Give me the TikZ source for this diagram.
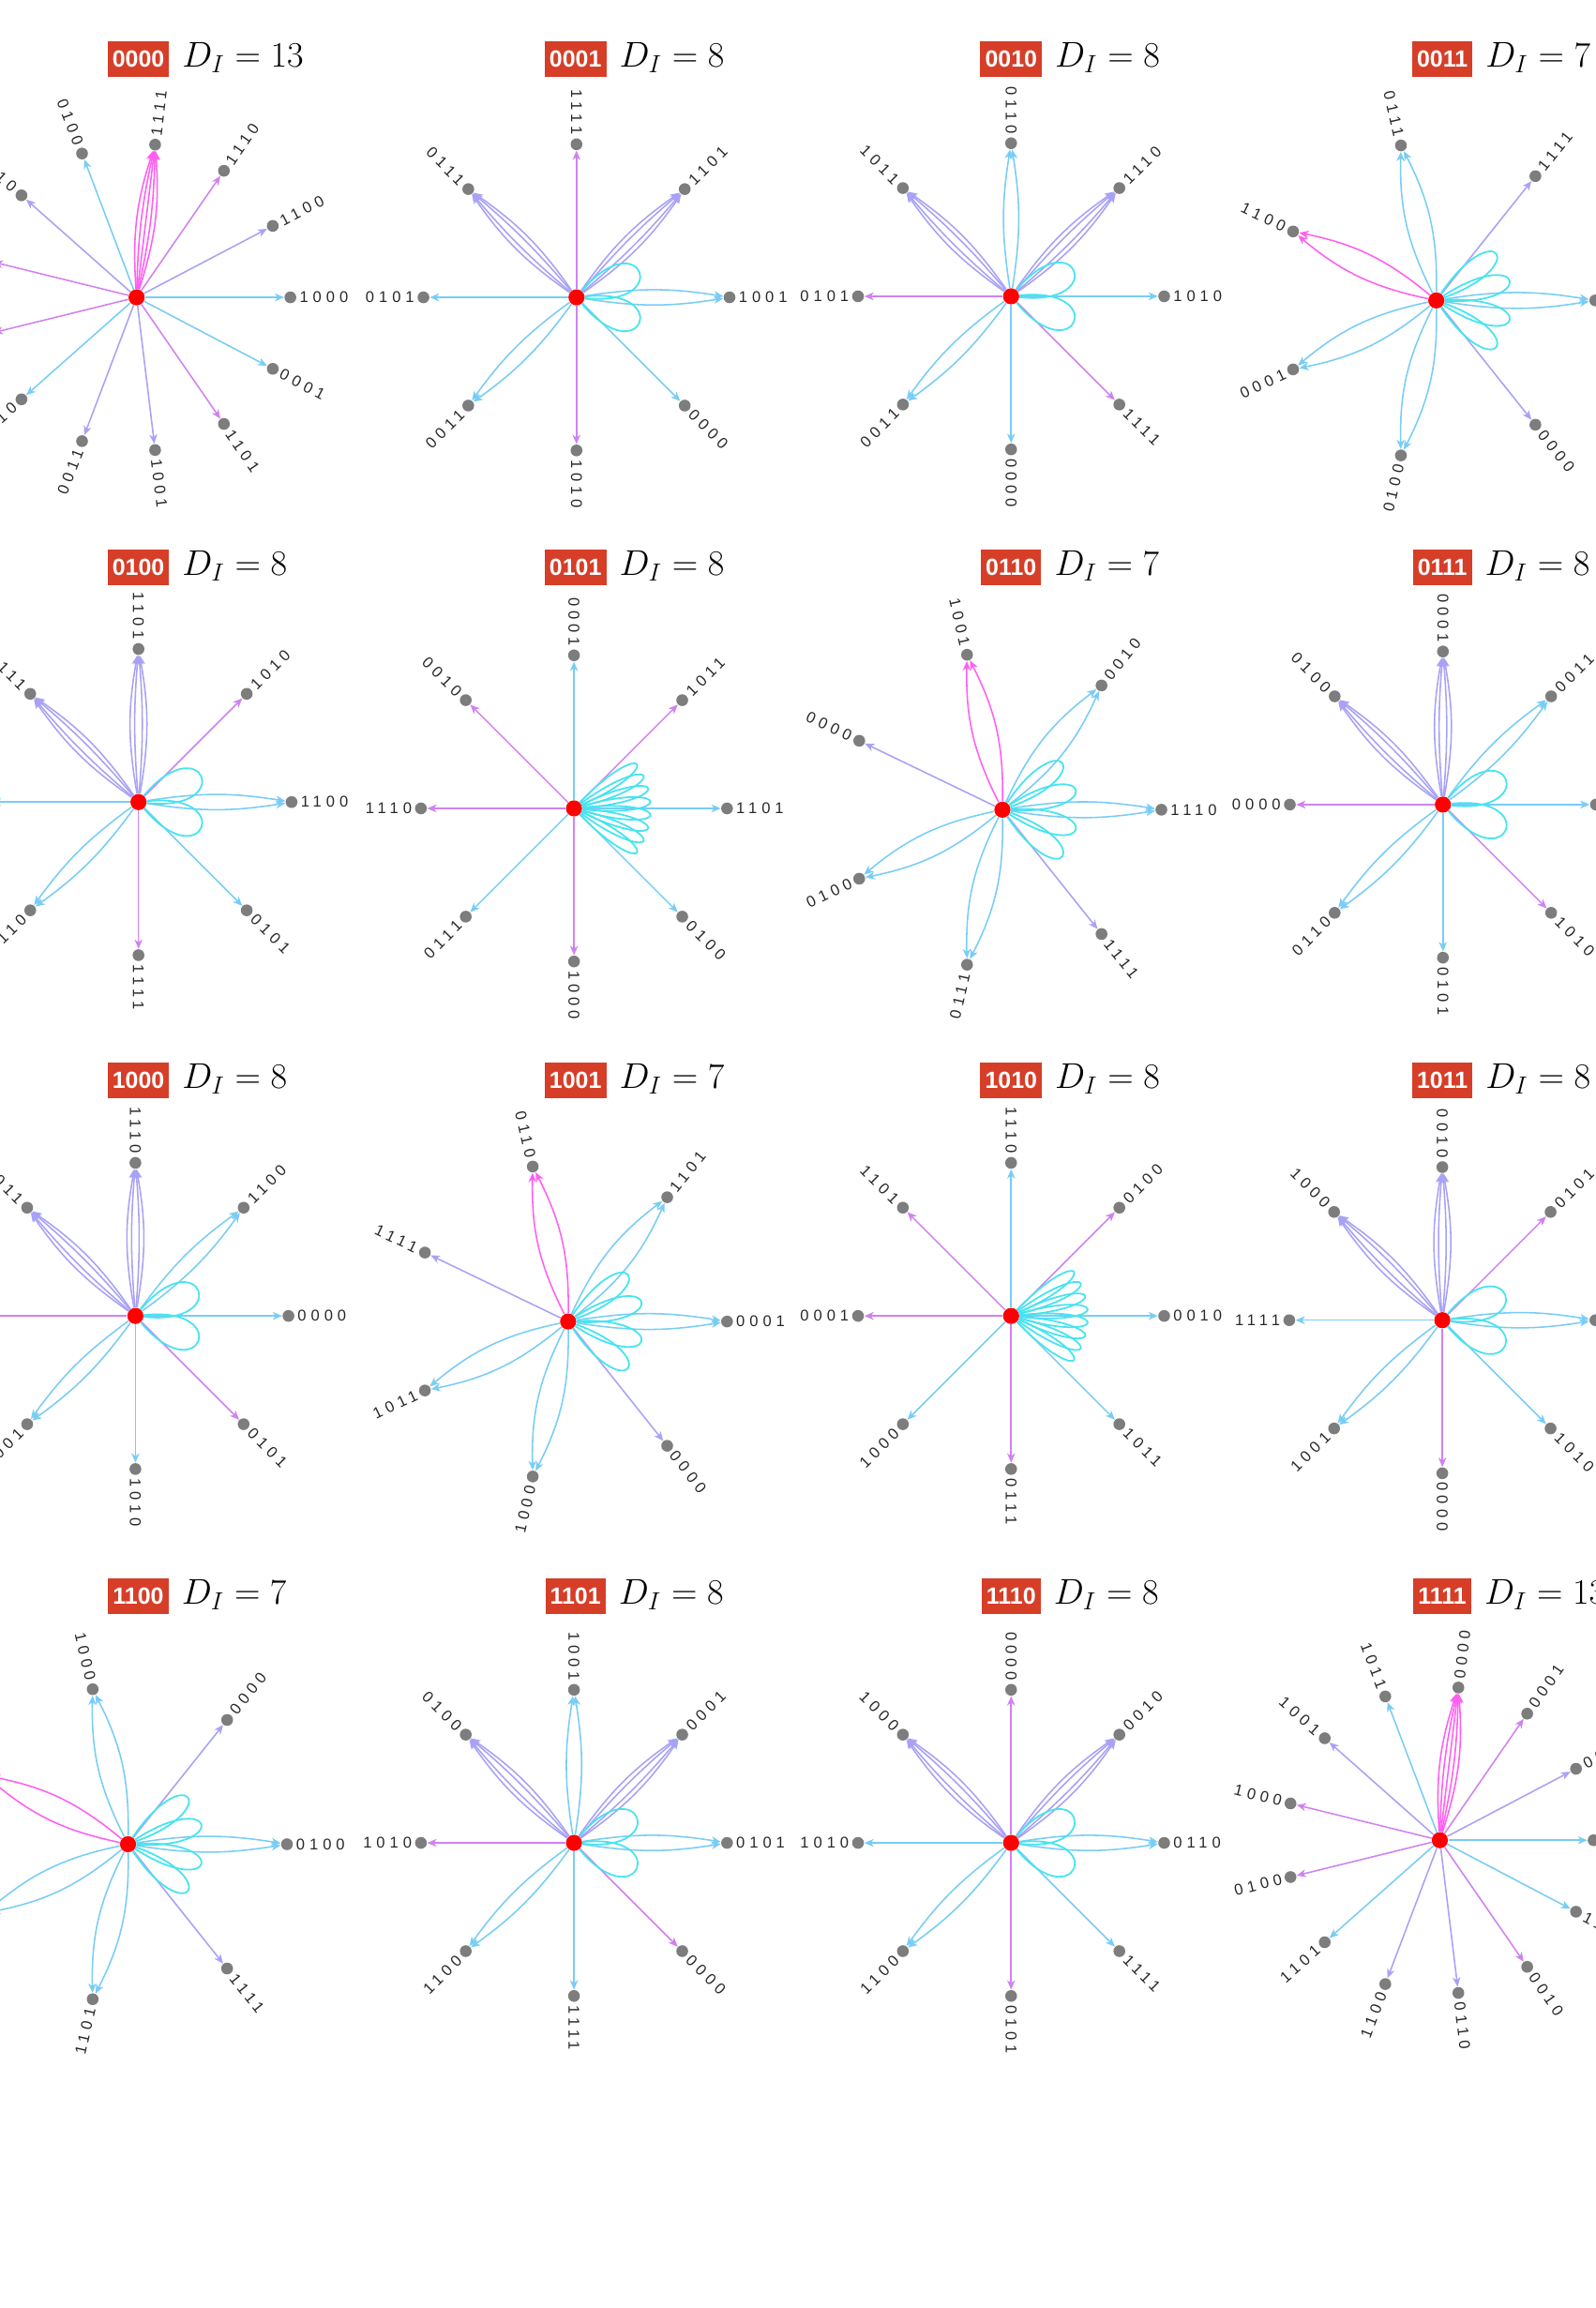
\documentclass[tikz,border=0pt]{standalone}
\usepackage{fontspec}
\usetikzlibrary{arrows.meta,calc}
\newfontfamily\labfont[LetterSpace=30]{Liberation Sans}
\newfontfamily\boxfont{Liberation Sans}
\pgfdeclarelayer{bg}
\pgfdeclarelayer{edges}
\pgfsetlayers{bg,edges,main}
\definecolor{ecy}{RGB}{120,205,245}
\definecolor{ela}{RGB}{168,162,245}
\definecolor{evi}{RGB}{208,130,240}
\definecolor{epk}{RGB}{255,95,240}
\definecolor{elp}{RGB}{70,228,240}
\definecolor{boxred}{RGB}{214,62,40}
\definecolor{leafgray}{RGB}{125,125,125}
\definecolor{labtext}{RGB}{40,40,40}
\tikzset{
 ctr/.style={circle, fill=red, inner sep=0pt, minimum size=7.8pt},
 leaf/.style={circle, fill=leafgray, inner sep=0pt, minimum size=5.7pt},
 cnx/.style={line width=0.7pt, -{Stealth[length=4.5pt,width=3.8pt,inset=1.3pt]}},
 lp/.style={line width=0.8pt, draw=elp},
 lab/.style={inner sep=0pt, font=\labfont\fontsize{7.5}{9}\selectfont, text=labtext},
 tbox/.style={fill=boxred, text=white, font=\boxfont\bfseries\fontsize{11.3}{13}\selectfont, inner xsep=2.3pt, inner ysep=0pt, minimum height=17pt},
 dlab/.style={font=\fontsize{16.5}{19}\selectfont, inner sep=0pt, anchor=base west}
}
\newcommand\EOne[3]{\draw[cnx,color=#3] (#1) -- (#2);}
\newcommand\ETwo[3]{\foreach \bb in {9,-9}{\draw[cnx,color=#3] (#1) to[bend left=\bb] (#2);}}
\newcommand\ETwoW[3]{\foreach \bb in {14,-14}{\draw[cnx,color=#3] (#1) to[bend left=\bb] (#2);}}
\newcommand\EFour[3]{\foreach \bb in {10,4.5,-4.5,-10}{\draw[cnx,color=#3] (#1) to[bend left=\bb] (#2);}}
\newcommand\EFive[3]{\foreach \bb in {11,5.5,0,-5.5,-11}{\draw[cnx,color=#3] (#1) to[bend left=\bb] (#2);}}
\newcommand\PanelHead[7]{%
 \node[tbox] (#1box) at (#4,-#5) {#2};
 \node[dlab] (#1di) at ([xshift=6pt]#1box.base east) {$D_I = #3$};
 \node[ctr] (#1c) at (#6,-#7) {};}
\newcommand\PanelNodes[3]{%
 \foreach \aa/\lab/\col/\typ in {#3}{%
  \pgfmathsetmacro\ang{\aa}%
  \node[leaf] (#1n\lab) at ($(#1c)+(\ang:#2)$) {};
  \def\isleft{0}%
  \ifdim\ang pt>89.9pt\relax\ifdim\ang pt<269.9pt\relax\def\isleft{1}\fi\fi
  \ifnum\isleft=1\relax
   \pgfmathsetmacro\rot{\ang-180}%
   \node[lab,anchor=east,rotate=\rot] (#1t\lab) at ($(#1n\lab)+(\ang:6)$) {\lab};
  \else
   \node[lab,anchor=west,rotate=\ang] (#1t\lab) at ($(#1n\lab)+(\ang:6)$) {\lab};
  \fi
  \begin{pgfonlayer}{edges}
  \csname E\typ\endcsname{#1c}{#1n\lab}{\col}
  \end{pgfonlayer}
 }}
\newcommand\PanelLoops[4]{%
 \begin{pgfonlayer}{edges}
 \foreach \p in {#2}{\pgfmathsetmacro\po{\p+#3}\pgfmathsetmacro\pin{\p-#3}%
  \draw[lp] (#1c) to[out=\po,in=\pin,distance=#4] (#1c);}
 \end{pgfonlayer}}
\newcommand\LoopsTwo[1]{\PanelLoops{#1}{22,-22}{28}{44pt}}
\newcommand\LoopsFour[1]{\PanelLoops{#1}{38,15,-15,-38}{18}{46pt}}
\newcommand\LoopsFan[1]{\PanelLoops{#1}{35,25,15,5,-5,-15,-25,-35}{11}{45pt}}
\begin{document}
\begin{tikzpicture}[x=0.025cm,y=0.025cm]
\useasboundingbox (0,0) rectangle (1084,-1568);
\begin{pgfonlayer}{bg}\fill[white] (0,0) rectangle (1084,-1568);\end{pgfonlayer}
% ---------- row 1
\PanelHead{pa}{0000}{13}{94}{40}{92.8}{202}
\PanelNodes{pa}{104.5}{0/1000/ecy/One, 27.6923/1100/ela/One, 55.3846/1110/evi/One, 83.0769/1111/epk/Five, 110.769/0100/ecy/One, 138.4615/0110/ela/One, 166.1538/0111/evi/One, 193.8462/1011/evi/One, 221.5385/0010/ecy/One, 249.2308/0011/ela/One, 276.9231/1001/ela/One, 304.6154/1101/evi/One, 332.3077/0001/ecy/One}
\PanelHead{pb}{0001}{8}{391}{40}{391.7}{202}
\PanelNodes{pb}{104}{0/1001/ecy/Two, 45/1101/ela/Four, 90/1111/evi/One, 135/0111/ela/Four, 180/0101/ecy/One, 225/0011/ecy/Two, 270/1010/evi/One, 315/0000/ecy/One}
\LoopsTwo{pb}
\PanelHead{pc}{0010}{8}{687}{40}{687}{201.3}
\PanelNodes{pc}{104}{0/1010/ecy/One, 45/1110/ela/Four, 90/0110/ecy/Two, 135/1011/ela/Four, 180/0101/evi/One, 225/0011/ecy/Two, 270/0000/ecy/One, 315/1111/evi/One}
\LoopsTwo{pc}
\PanelHead{pd}{0011}{7}{980}{40}{975.9}{204.1}
\PanelNodes{pd}{108}{0/1011/ecy/Two, 51.4286/1111/ela/One, 102.857/0111/ecy/TwoW, 154.286/1100/epk/TwoW, 205.714/0001/ecy/TwoW, 257.143/0100/ecy/TwoW, 308.571/0000/ela/One}
\LoopsFour{pd}
% ---------- row 2
\PanelHead{pe}{0100}{8}{94}{385.6}{94.1}{544.9}
\PanelNodes{pe}{104}{0/1100/ecy/Two, 45/1010/evi/One, 90/1101/ela/Four, 135/0111/ela/Four, 180/0000/ecy/One, 225/0110/ecy/Two, 270/1111/evi/One, 315/0101/ecy/One}
\LoopsTwo{pe}
\PanelHead{pf}{0101}{8}{391}{385.6}{390}{549.2}
\PanelNodes{pf}{104}{0/1101/ecy/One, 45/1011/evi/One, 90/0001/ecy/One, 135/0010/evi/One, 180/1110/evi/One, 225/0111/ecy/One, 270/1000/evi/One, 315/0100/ecy/One}
\LoopsFan{pf}
\PanelHead{pg}{0110}{7}{687}{385.6}{681.1}{550.1}
\PanelNodes{pg}{108}{0/1110/ecy/Two, 51.4286/0010/ecy/TwoW, 102.857/1001/epk/TwoW, 154.286/0000/ela/One, 205.714/0100/ecy/TwoW, 257.143/0111/ecy/TwoW, 308.571/1111/ela/One}
\LoopsFour{pg}
\PanelHead{ph}{0111}{8}{980}{385.6}{980.4}{546.6}
\PanelNodes{ph}{104}{0/1111/ecy/One, 45/0011/ecy/Two, 90/0001/ela/Four, 135/0100/ela/Four, 180/0000/evi/One, 225/0110/ecy/Two, 270/0101/ecy/One, 315/1010/evi/One}
\LoopsTwo{ph}
% ---------- row 3
\PanelHead{pi}{1000}{8}{94}{734}{92}{894}
\PanelNodes{pi}{104}{0/0000/ecy/One, 45/1100/ecy/Two, 90/1110/ela/Four, 135/1011/ela/Four, 180/1111/evi/One, 225/0001/ecy/Two, 270/1010/ecy/One, 315/0101/evi/One}
\LoopsTwo{pi}
\PanelHead{pj}{1001}{7}{391}{734}{386}{897.8}
\PanelNodes{pj}{108}{0/0001/ecy/Two, 51.4286/1101/ecy/TwoW, 102.857/0110/epk/TwoW, 154.286/1111/ela/One, 205.714/1011/ecy/TwoW, 257.143/1000/ecy/TwoW, 308.571/0000/ela/One}
\LoopsFour{pj}
\PanelHead{pk}{1010}{8}{687}{734}{687}{894}
\PanelNodes{pk}{104}{0/0010/ecy/One, 45/0100/evi/One, 90/1110/ecy/One, 135/1101/evi/One, 180/0001/evi/One, 225/1000/ecy/One, 270/0111/evi/One, 315/1011/ecy/One}
\LoopsFan{pk}
\PanelHead{pl}{1011}{8}{980}{734}{980}{896.9}
\PanelNodes{pl}{104}{0/0011/ecy/Two, 45/0101/evi/One, 90/0010/ela/Four, 135/1000/ela/Four, 180/1111/ecy/One, 225/1001/ecy/Two, 270/0000/evi/One, 315/1010/ecy/One}
\LoopsTwo{pl}
% ---------- row 4
\PanelHead{pm}{1100}{7}{94}{1084.4}{87}{1252.9}
\PanelNodes{pm}{108}{0/0100/ecy/Two, 51.4286/0000/ela/One, 102.857/1000/ecy/TwoW, 154.286/0011/epk/TwoW, 205.714/1110/ecy/TwoW, 257.143/1101/ecy/TwoW, 308.571/1111/ela/One}
\LoopsFour{pm}
\PanelHead{pn}{1101}{8}{391}{1084.4}{390}{1252}
\PanelNodes{pn}{104}{0/0101/ecy/Two, 45/0001/ela/Four, 90/1001/ecy/Two, 135/0100/ela/Four, 180/1010/evi/One, 225/1100/ecy/Two, 270/1111/ecy/One, 315/0000/evi/One}
\LoopsTwo{pn}
\PanelHead{po}{1110}{8}{687}{1084.4}{687}{1252}
\PanelNodes{po}{104}{0/0110/ecy/Two, 45/0010/ela/Four, 90/0000/evi/One, 135/1000/ela/Four, 180/1010/ecy/One, 225/1100/ecy/Two, 270/0101/evi/One, 315/1111/ecy/One}
\LoopsTwo{po}
\PanelHead{pp}{1111}{13}{980}{1084.4}{978.3}{1250.2}
\PanelNodes{pp}{104.5}{0/0111/ecy/One, 27.6923/0011/ela/One, 55.3846/0001/evi/One, 83.0769/0000/epk/Five, 110.769/1011/ecy/One, 138.4615/1001/ela/One, 166.1538/1000/evi/One, 193.8462/0100/evi/One, 221.5385/1101/ecy/One, 249.2308/1100/ela/One, 276.9231/0110/ela/One, 304.6154/0010/evi/One, 332.3077/1110/ecy/One}
\end{tikzpicture}
\end{document}
